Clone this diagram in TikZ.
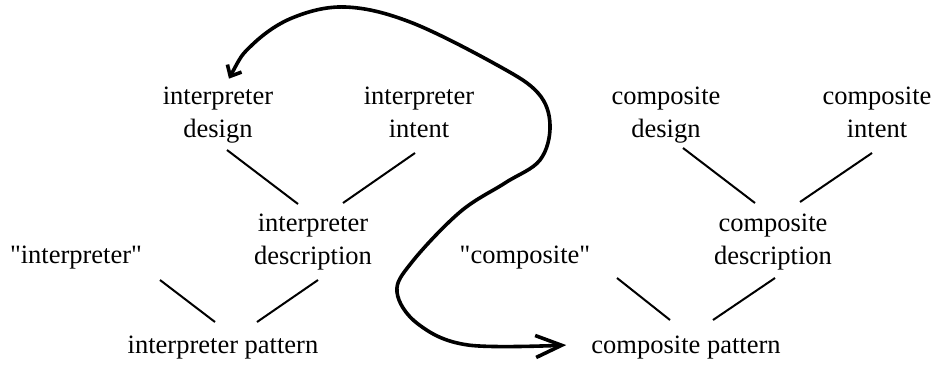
\documentclass[tikz,border=0pt]{standalone}
\usepackage{fontspec}
\setmainfont{Liberation Serif}[Ligatures=TeXOff]
\usetikzlibrary{arrows.meta,calc}
\begin{document}
\begin{tikzpicture}[x=1pt,y=-1pt,
  lbl/.style={inner sep=0pt,align=center,font=\fontsize{26.5}{33}\selectfont},
  conn/.style={line width=2pt},
  loop/.style={line width=3.6pt,line cap=round,line join=round}]
\useasboundingbox (0,0) rectangle (933,367);
% interpreter side
\node[lbl] (idesign) at (218,115) {interpreter\\design};
\node[lbl] (iintent) at (419,112) {interpreter\\intent};
\node[lbl] (idesc) at (313,242) {interpreter\\description};
\node[lbl,anchor=base] (iquote) at (76,263) {"interpreter"};
\node[lbl,anchor=base] (ipattern) at (223,353) {interpreter pattern};
% composite side
\node[lbl] (cdesign) at (666,115) {composite\\design};
\node[lbl] (cintent) at (877,112) {composite\\intent};
\node[lbl] (cdesc) at (773,242) {composite\\description};
\node[lbl,anchor=base] (cquote) at (525,263) {"composite"};
\node[lbl,anchor=base] (cpattern) at (686,353) {composite pattern};
% connectors
\draw[conn] ($(idesign.center)+(9,35)$) -- ($(idesc.center)+(-15,-38)$);
\draw[conn] ($(iintent.center)+(-4,41)$) -- ($(idesc.center)+(30,-39)$);
\draw[conn] ($(idesc.center)+(5,38)$) -- ($(ipattern.base)+(34,-31)$);
\draw[conn] ($(iquote.base)+(84,17)$) -- ($(ipattern.base)+(-8,-31)$);
\draw[conn] ($(cdesign.center)+(17,33)$) -- ($(cdesc.center)+(-18,-39)$);
\draw[conn] ($(cintent.center)+(-5,41)$) -- ($(cdesc.center)+(27,-40)$);
\draw[conn] ($(cdesc.center)+(2,36)$) -- ($(cpattern.base)+(27,-33)$);
\draw[conn] ($(cquote.base)+(92,15)$) -- ($(cpattern.base)+(-16,-33)$);
% loop
\draw[loop,{Straight Barb[length=9pt,width=16pt]}-{Straight Barb[length=26pt,width=22pt]}]
  plot[smooth,tension=0.6] coordinates {
  ($(idesign.north)+(11,-8)$) (252,45) (292,18) (345,7) (410,22)
  (497,65) (538,93) (550,125) (540,160) (505,183) (460,212) (412,262)
  (397,292) (418,324) (468,345) ($(cpattern.west)+(-25,-2)$)};
\end{tikzpicture}
\end{document}
